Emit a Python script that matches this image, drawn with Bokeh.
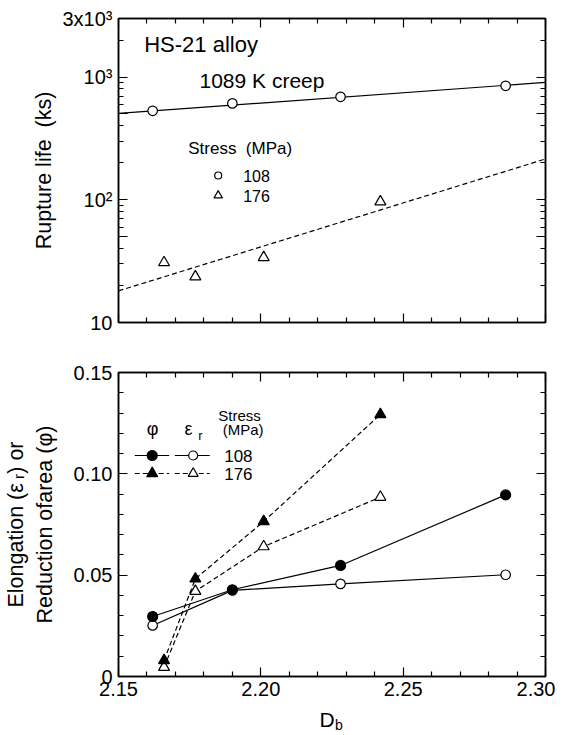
import math
from bokeh.plotting import figure
from bokeh.layouts import column
from bokeh.models import FixedTicker, LinearAxis, LogAxis, Label, Range1d
from bokeh.embed import file_html
from bokeh.resources import INLINE

FONT = "Liberation Sans"
NB = "\u00a0"

# ---------------- data ----------------
# top panel: rupture life (ks) vs D_b
db_108 = [2.162, 2.190, 2.228, 2.286]
life_108 = [531, 610, 690, 849]
db_176 = [2.166, 2.177, 2.201, 2.242]
life_176 = [30.8, 23.6, 33.9, 96.4]
fit_db = [2.15, 2.30]
fit_life_108 = [505, 904]
fit_life_176 = [18.1, 215]

# bottom panel: elongation (eps_r) and reduction of area (phi)
phi_108 = [0.0296, 0.0428, 0.0548, 0.0896]
eps_108 = [0.0252, 0.0425, 0.0457, 0.0502]
phi_176 = [0.0079, 0.0482, 0.0765, 0.1293]
eps_176 = [0.0046, 0.0421, 0.0641, 0.0885]

# ticks
x_major = [2.15, 2.20, 2.25, 2.30]
x_major_labels = ["2.15", "2.20", "2.25", "2.30"]
x_minor = [2.16, 2.17, 2.18, 2.19, 2.21, 2.22, 2.23, 2.24, 2.26, 2.27, 2.28, 2.29]
life_major = [10, 50, 100, 500, 1000, 3000]
life_major_labels = ["10", "", "10\u00b2", "", "10\u00b3", "3x10\u00b3"]
life_minor = [20, 30, 40, 60, 70, 80, 90, 200, 300, 400, 600, 700, 800, 900, 2000]
el_major = [0, 0.05, 0.10, 0.15]
el_major_labels = ["0", "0.05", "0.10", "0.15"]
el_minor = [0.01, 0.02, 0.03, 0.04, 0.06, 0.07, 0.08, 0.09, 0.11, 0.12, 0.13, 0.14]

X0, X1 = 2.15, 2.30
L0, L1 = 10, 3000
E0, E1 = 0.0, 0.15

# ---------------- layout constants (window pixels) ----------------
FW, FH = 427, 304
FL = 117          # frame left in window
FR = 10           # right border
FT1 = 18          # top panel frame top
FT2 = 372         # bottom panel frame top
GAP = 25          # border below top panel / above bottom panel
BB2 = 32          # border below bottom panel
CAP_TOP = FT2 + FH + BB2   # top of the caption strip (x label)
CAP_H = 26


def bx(px):
    return X0 + (px - FL) / FW * (X1 - X0)


def ty(py):
    return 10 ** (math.log10(L1) - (py - FT1) / FH * (math.log10(L1) - math.log10(L0)))


def by(py):
    return E1 - (py - FT2) / FH * (E1 - E0)


def cy(py):
    return CAP_TOP + CAP_H - py


def style_axis(ax, ticks, minor, labels, show):
    ax.ticker = FixedTicker(ticks=ticks, minor_ticks=minor)
    if show:
        ax.major_label_overrides = {t: l for t, l in zip(ticks, labels)}
        ax.major_label_text_font_size = "20px"
    else:
        ax.major_label_overrides = {t: "" for t in ticks}
        ax.major_label_text_font_size = "1px"
        ax.major_label_standoff = 0
    ax.major_label_text_font = FONT
    ax.major_label_text_color = "black"
    ax.axis_line_color = "black"
    ax.axis_line_width = 1.5
    ax.major_tick_in = 9
    ax.major_tick_out = 0
    ax.minor_tick_in = 5
    ax.minor_tick_out = 0
    ax.major_tick_line_width = 1.2
    ax.minor_tick_line_width = 1.2
    ax.major_tick_line_color = "black"
    ax.minor_tick_line_color = "black"
    ax.axis_label_text_font = FONT
    ax.axis_label_text_font_style = "normal"
    ax.axis_label_text_color = "black"


def lab(p, text, x, y, size, align="left", baseline="middle"):
    p.add_layout(Label(x=x, y=y, text=text, text_font=FONT, text_font_size=f"{size}px",
                       text_align=align, text_baseline=baseline, text_color="black"))


# ---------------- top panel ----------------
p1 = figure(frame_width=FW, frame_height=FH, x_range=Range1d(X0, X1), y_range=Range1d(L0, L1),
            y_axis_type="log", output_backend="svg", toolbar_location=None,
            min_border_left=FL, min_border_right=FR, min_border_top=FT1, min_border_bottom=GAP,
            background_fill_color="white", border_fill_color="white",
            outline_line_color="black", outline_line_width=1.5)
p1.grid.visible = False
p1.add_layout(LinearAxis(), "above")
p1.add_layout(LogAxis(), "right")
for ax in p1.below + p1.above:
    style_axis(ax, x_major, x_minor, x_major_labels, False)
style_axis(p1.left[0], life_major, life_minor, life_major_labels, True)
p1.left[0].major_label_standoff = 6
p1.left[0].axis_label = "Rupture life" + NB + NB + "(ks)"
p1.left[0].axis_label_text_font_size = "21.5px"
p1.left[0].axis_label_standoff = 3
style_axis(p1.right[0], life_major, life_minor, life_major_labels, False)

p1.line(fit_db, fit_life_108, line_color="black", line_width=1.2)
p1.line(fit_db, fit_life_176, line_color="black", line_width=1.2, line_dash="5 3")
p1.scatter(db_108, life_108, marker="circle", size=9.5, fill_color="white",
           line_color="black", line_width=1.2)
p1.scatter(db_176, life_176, marker="triangle", size=11, fill_color="white",
           line_color="black", line_width=1.2)

# top legend
p1.scatter([bx(216.7)], [ty(175)], marker="circle", size=7, fill_color="white",
           line_color="black", line_width=1.2)
p1.scatter([bx(216.7)], [ty(195)], marker="triangle", size=8.5, fill_color="white",
           line_color="black", line_width=1.2)
lab(p1, "Stress" + NB + NB + "(MPa)", bx(186.7), ty(147.5), 17)
lab(p1, "108", bx(241.7), ty(175.3), 16)
lab(p1, "176", bx(241.7), ty(195.3), 16)

lab(p1, "HS-21 alloy", bx(142.7), ty(43.5), 22)
lab(p1, "1089 K creep", bx(198), ty(80), 21)

# ---------------- bottom panel ----------------
p2 = figure(frame_width=FW, frame_height=FH, x_range=Range1d(X0, X1), y_range=Range1d(E0, E1),
            output_backend="svg", toolbar_location=None,
            min_border_left=FL, min_border_right=FR, min_border_top=GAP, min_border_bottom=BB2,
            background_fill_color="white", border_fill_color="white",
            outline_line_color="black", outline_line_width=1.5)
p2.grid.visible = False
p2.add_layout(LinearAxis(), "above")
p2.add_layout(LinearAxis(), "right")
style_axis(p2.below[0], x_major, x_minor, x_major_labels, True)
p2.below[0].major_label_standoff = 5
style_axis(p2.above[0], x_major, x_minor, x_major_labels, False)
style_axis(p2.left[0], el_major, el_minor, el_major_labels, True)
p2.left[0].major_label_standoff = 6
p2.left[0].axis_label = ("Elongation (\u03b5\u2009\u1d63) or\n"
                         "Reduction ofarea (\u03c6)")
p2.left[0].axis_label_text_font_size = "21.5px"
p2.left[0].axis_label_standoff = 14
style_axis(p2.right[0], el_major, el_minor, el_major_labels, False)

p2.line(db_108, eps_108, line_color="black", line_width=1.2)
p2.line(db_108, phi_108, line_color="black", line_width=1.2)
p2.line(db_176, eps_176, line_color="black", line_width=1.2, line_dash="5 3")
p2.line(db_176, phi_176, line_color="black", line_width=1.2, line_dash="5 3")
p2.scatter(db_108, eps_108, marker="circle", size=9.5, fill_color="white",
           line_color="black", line_width=1.2)
p2.scatter(db_176, eps_176, marker="triangle", size=11, fill_color="white",
           line_color="black", line_width=1.2)
p2.scatter(db_108, phi_108, marker="circle", size=10, fill_color="black",
           line_color="black", line_width=1.2)
p2.scatter(db_176, phi_176, marker="triangle", size=11, fill_color="black",
           line_color="black", line_width=1.2)

# bottom legend
for (xa, xb) in [(133.3, 167.7), (173.3, 208.3)]:
    p2.line([bx(xa), bx(xb)], [by(455), by(455)], line_color="black", line_width=1.2)
    p2.line([bx(xa), bx(xb)], [by(473), by(473)], line_color="black", line_width=1.2,
            line_dash="5 3")
p2.scatter([bx(150.7)], [by(455)], marker="circle", size=10, fill_color="black",
           line_color="black", line_width=1.2)
p2.scatter([bx(191.7)], [by(455)], marker="circle", size=9, fill_color="white",
           line_color="black", line_width=1.2)
p2.scatter([bx(150.7)], [by(473)], marker="triangle", size=11, fill_color="black",
           line_color="black", line_width=1.2)
p2.scatter([bx(191.7)], [by(473)], marker="triangle", size=10, fill_color="white",
           line_color="black", line_width=1.2)
lab(p2, "\u03c6", bx(151), by(428), 18, align="center")
lab(p2, "\u03b5", bx(187), by(428.5), 18, align="center")
lab(p2, "r", bx(199), by(434.5), 13, align="center")
lab(p2, "Stress", bx(238), by(415), 15, align="center")
lab(p2, "(MPa)", bx(241.7), by(429), 15, align="center")
lab(p2, "108", bx(222.7), by(455), 17)
lab(p2, "176", bx(222.7), by(473), 17)

# ---------------- caption strip: x label D_b (same frame geometry as panels) ----------------
p3 = figure(frame_width=FW, frame_height=CAP_H, x_range=Range1d(X0, X1),
            y_range=Range1d(0, CAP_H), x_axis_type=None, y_axis_type=None,
            output_backend="svg", toolbar_location=None,
            min_border_left=FL, min_border_right=FR, min_border_top=0, min_border_bottom=0,
            outline_line_color=None, background_fill_color="white",
            border_fill_color="white")
p3.grid.visible = False

lab(p3, "D", bx(318), cy(719), 21)
lab(p3, "b", bx(333.5), cy(724.5), 14)

layout = column(p1, p2, p3)
open("out.html", "w").write(file_html(layout, INLINE))
